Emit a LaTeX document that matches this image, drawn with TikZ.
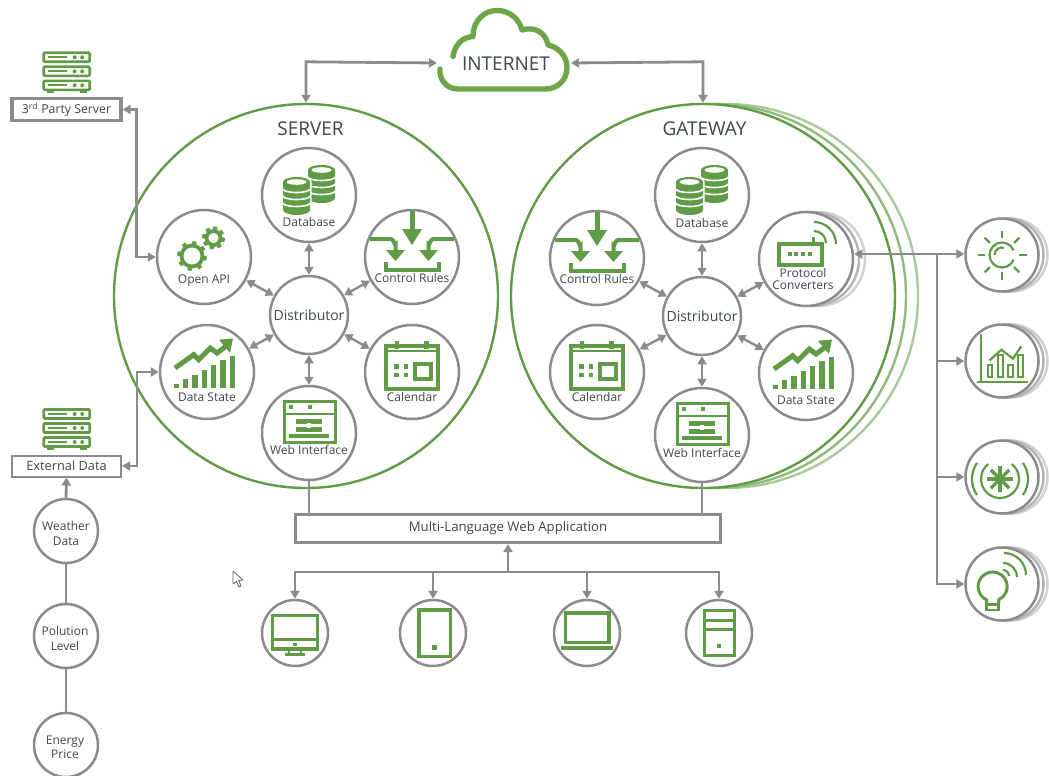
\documentclass[tikz,border=0pt]{standalone}
\usepackage{fontspec}
\setmainfont{Open Sans}
\usetikzlibrary{arrows.meta,calc}
\definecolor{gr}{HTML}{609B45}
\definecolor{grc}{HTML}{6EA548}
\definecolor{grl}{HTML}{8FBA7C}
\definecolor{grm}{HTML}{A9CB9B}
\definecolor{cg}{HTML}{8B8B8D}
\definecolor{sh1}{HTML}{B5B5B7}
\definecolor{sh2}{HTML}{D2D2D4}
\definecolor{tx}{HTML}{3F4650}
\tikzset{
 x=1pt,y=-1pt,
 unitc/.style={circle,draw=cg,line width=2.5pt,fill=white,inner sep=0pt,minimum size=94pt},
 smallc/.style={circle,draw=cg,line width=2.5pt,fill=white,inner sep=0pt,minimum size=66pt},
 rightc/.style={circle,draw=cg,line width=2.5pt,fill=white,inner sep=0pt,minimum size=73pt},
 distc/.style={circle,draw=cg,line width=2.5pt,fill=white,inner sep=0pt,minimum size=78pt,text=tx,font=\fontsize{14}{15}\selectfont},
 lbl/.style={inner sep=0pt,text=tx,align=center,font=\fontsize{12}{13}\selectfont},
 ttl/.style={inner sep=0pt,text=tx,font=\fontsize{19}{21}\selectfont},
 conn/.style={draw=cg,line width=2.8pt,arrows={-},>={Triangle[length=8pt,width=9pt]}},
 ic/.style={draw=gr,line width=3.2pt,line cap=butt},
 icthin/.style={draw=gr,line width=2.2pt},
 icf/.style={fill=gr,draw=none},
 pics/dbone/.style={code={
   \path[fill=white,draw=white,line width=3pt] (-13.5,-14) arc[start angle=180,end angle=360,x radius=13.5,y radius=5]
      -- (13.5,14) arc[start angle=0,end angle=180,x radius=13.5,y radius=5] -- cycle;
   \path[icf] (-13.5,-14) arc[start angle=180,end angle=360,x radius=13.5,y radius=5]
      -- (13.5,14) arc[start angle=0,end angle=180,x radius=13.5,y radius=5] -- cycle;
   \path[fill=white] (0,-14) ellipse[x radius=10,y radius=2.8];
   \foreach \lv in {-7,0,7}{\draw[white,line width=1.6pt] (-13.5,\lv) arc[start angle=180,end angle=0,x radius=13.5,y radius=3.5];}
 }},
 pics/dbicon/.style={code={
   \pic at (12.5,-11) {dbone};
   \pic at (-12.5,1) {dbone};
 }},
 pics/gear/.style={code={
   \draw[gr,line width=3.8pt] (0,0) circle[radius=#1];
   \foreach \a in {0,45,...,315}{\draw[gr,line width=4.2pt] (\a+10:#1) -- (\a+10:#1+4.4);}
 }},
 pics/gearicon/.style={code={
   \pic at (-12,-1) {gear=10.5};
   \pic at (9.5,-19) {gear=7};
 }},
 pics/ctrlicon/.style={code={
   \draw[ic,line width=5pt] (0,-46) -- (0,-24);
   \path[icf] (-10,-28) -- (10,-28) -- (0,-12) -- cycle;
   \draw[ic,line width=4pt] (-42,-18) -- (-21,-18) to[out=0,in=-90] (-16.5,-12) -- (-16.5,-3);
   \path[icf] (-26,-7) -- (-7,-7) -- (-16.5,4) -- cycle;
   \draw[ic,line width=4pt] (42,-18) -- (21,-18) to[out=180,in=-90] (16.5,-12) -- (16.5,-3);
   \path[icf] (26,-7) -- (7,-7) -- (16.5,4) -- cycle;
   \draw[ic,line width=3.4pt] (-26,4.5) -- (-26,13) -- (27,13) -- (27,4.5);
 }},
 pics/stateicon/.style={code={
   \foreach \xx/\tt in {-30.7/11.7,-21.3/7,-12/2.7,-2.7/-2.3,6.7/-6.7,16/-11.7,25.3/-16.3}{
     \path[icf] (\xx-2.6,16) rectangle (\xx+2.6,\tt);}
   \draw[ic,line width=5pt] (-32,-4) -- (-13.3,-17.3) -- (-8.3,-12.3) -- (3.3,-24) -- (10,-19) -- (22,-28);
   \path[icf] (12,-32.3) -- (26,-33.5) -- (23,-19) -- cycle;
 }},
 pics/calicon/.style={code={
   \draw[ic,line width=3.8pt] (-26,-26) rectangle (26,17);
   \draw[ic,line width=2.4pt] (-26,-21) -- (26,-21);
   \draw[ic,line width=4.4pt] (-15,-31) -- (-15,-23);
   \draw[ic,line width=4.4pt] (14.5,-31) -- (14.5,-23);
   \foreach \xx/\yy in {-15.7/-5.7,-6.3/-5.7,-15.7/2.7,-6.3/2.7}{\path[icf] (\xx-2.2,\yy-2.2) rectangle (\xx+2.2,\yy+2.2);}
   \draw[ic,line width=4.6pt] (3,-8) rectangle (19,7);
 }},
 pics/webicon/.style={code={
   \draw[ic,line width=3pt] (-25,-32) rectangle (26,9);
   \draw[ic,line width=2.8pt] (-25,-19) -- (26,-19);
   \path[icf] (-20,-28) rectangle (-16,-24);
   \path[icf] (-1,-28) rectangle (3,-24);
   \path[icf] (-13,-14) rectangle (13,-9);
   \path[icf] (-13,-6.5) rectangle (13,-1.5);
   \path[fill=white] (-2,-10) rectangle (2,-5);
   \path[icf] (-20,0.5) rectangle (20,4.5);
 }},
 pics/routericon/.style={code={
   \draw[ic,line width=3.2pt] (-27,-15) rectangle (16,6);
   \foreach \xx in {-16,-10,-3,4}{\path[icf] (\xx-1.7,-6.7) rectangle (\xx+1.7,-3.3);}
   \draw[ic,line width=3.4pt] (7.5,-22) -- (7.5,-15);
   \draw[icthin] (8,-28) arc[start angle=-90,end angle=0,radius=12];
   \draw[icthin] (8,-37) arc[start angle=-90,end angle=0,radius=22];
 }},
 pics/rackicon/.style={code={
   \foreach \rw in {-14,0,14}{
     \draw[ic,line width=2.6pt,rounded corners=1pt] (-23,\rw-4.5) rectangle (23,\rw+4.5);
     \draw[gr,line width=1.8pt] (-19,\rw) -- (0,\rw);
     \path[icf] (8,\rw) circle[radius=2];
     \path[icf] (15.5,\rw) circle[radius=2];
   }
   \foreach \xx in {-16.5,16.5}{
     \foreach \rw in {-9.5,4.5}{\draw[gr,line width=2.4pt] (\xx,\rw) -- (\xx,\rw+1.5);}
     \draw[gr,line width=2.4pt] (\xx,18.5) -- (\xx,21);
   }
   \draw[gr,line width=2.4pt] (-20,20.5) -- (-13,20.5);
   \draw[gr,line width=2.4pt] (13,20.5) -- (20,20.5);
 }},
 pics/sunicon/.style={code={
   \foreach \a in {0,45,...,315}{\draw[icthin] (\a:17) -- (\a:24.5);}
   \draw[icthin] (22:12.5) arc[start angle=22,end angle=338,radius=12.5];
   \draw[icthin] (180:7.5) arc[start angle=180,end angle=285,radius=7.5];
 }},
 pics/charticon/.style={code={
   \draw[icthin] (-20.7,-27.3) -- (-20.7,20.7);
   \draw[icthin] (-25,20.7) -- (26,20.7);
   \draw[icthin] (-14,4.3) rectangle (-9.7,16);
   \draw[icthin] (-4,-5.7) rectangle (1,16);
   \draw[icthin] (6,4.3) rectangle (11,16);
   \draw[icthin] (16,-5.7) rectangle (21,16);
   \draw[icthin] (-12.3,-0.7) -- (-0.7,-11.3) -- (11,-2.3) -- (19.3,-14.7);
 }},
 pics/sparkicon/.style={code={
   \foreach \a in {0,45,...,135}{\draw[gr,line width=3.2pt] (-2,2)++(\a:13) -- ++(\a+180:26);}
   \draw[icthin] (-2,2)++(-52:19) arc[start angle=-52,end angle=232,radius=19];
   \draw[icthin] (-2,2)++(-35:28) arc[start angle=-35,end angle=35,radius=28];
   \draw[icthin] (-2,2)++(145:28) arc[start angle=145,end angle=215,radius=28];
 }},
 pics/bulbicon/.style={code={
   \draw[ic,line width=3pt] (-15.5,20) -- (-15.5,15.7) arc[start angle=115,end angle=425,radius=14.5] -- (-3.3,20);
   \draw[ic,line width=2.6pt] (-15.5,20.5) -- (-3.5,20.5) -- (-3.5,26) -- (-15.5,26) -- cycle;
   \draw[icthin] (1,-14) arc[start angle=-90,end angle=0,radius=6];
   \draw[icthin] (1,-21) arc[start angle=-90,end angle=0,radius=14];
   \draw[icthin] (2,-31) arc[start angle=-90,end angle=0,radius=22];
 }},
 pics/monicon/.style={code={
   \draw[ic] (-22.7,-17.3) rectangle (22.3,16);
   \draw[ic] (-22.7,6.7) -- (22.3,6.7);
   \path[icf] (-2,9.5) rectangle (2,12.5);
   \draw[ic,line width=2.4pt] (-6,16) -- (-6,21.5);
   \draw[ic,line width=2.4pt] (6,16) -- (6,21.5);
   \draw[ic] (-10,21.7) -- (10,21.7);
 }},
 pics/tabicon/.style={code={
   \draw[ic,line width=3.6pt] (-14.3,-23.3) rectangle (17.3,23.3);
   \path[icf] (-1.5,12) rectangle (3.5,17);
 }},
 pics/lapicon/.style={code={
   \draw[ic,line width=3.6pt] (-21.7,-20) rectangle (21.7,9.3);
   \draw[ic,line width=3.6pt] (-25.7,15) -- (25.7,15);
 }},
 pics/towericon/.style={code={
   \draw[ic] (-14.3,-22.7) rectangle (15.7,22.7);
   \draw[ic] (-14.3,-12.7) -- (15.7,-12.7);
   \draw[ic] (-14.3,-3.3) -- (15.7,-3.3);
   \path[icf] (-2,10.7) rectangle (2,14.7);
 }},
}
% name, x, y, icon, label, label dy
\newcommand{\unitnode}[6]{%
  \node[unitc] (#1) at (#2,#3) {};
  \pic at (#1.center) {#4};
  \node[lbl] (#1-l) at ($(#1.center)+(0,#6)$) {#5};
}
\begin{document}
\begin{tikzpicture}
\useasboundingbox (0,0) rectangle (1049,776);
\path[fill=white] (0,0) rectangle (1049,776);

% big circles
\node[circle,draw=grm,line width=2.4pt,fill=white,minimum size=384pt,inner sep=0pt] (gw3) at (726,296) {};
\node[circle,draw=grl,line width=2.4pt,fill=white,minimum size=384pt,inner sep=0pt] (gw2) at (714,296) {};
\node[circle,draw=gr,line width=2.4pt,fill=white,minimum size=384pt,inner sep=0pt] (gw) at (703,296) {};
\node[circle,draw=gr,line width=2.4pt,fill=white,minimum size=384pt,inner sep=0pt] (srv) at (306,296) {};

\node[ttl] (srvt) at (310.5,128.5) {SERVER};
\node[ttl] (gwt) at (704.5,128.5) {GATEWAY};

% cloud
\draw[grc,line width=5.4pt,line cap=round,line join=round] (453,56.5)
  .. controls (455,44) and (463,37) .. (473,36.5)
  .. controls (473,20) and (485,10) .. (498,10.5)
  .. controls (510,11) and (519,19) .. (522,30)
  .. controls (535,26) and (546,33) .. (548,45)
  .. controls (558,47) and (567,56) .. (567,67)
  .. controls (567,80) and (558,89) .. (545,89)
  -- (458,89)
  .. controls (447,89) and (439,80) .. (440,69);
\node[inner sep=0pt,text=tx,font=\fontsize{19}{21}\selectfont] (inet) at (506,64) {INTERNET};
\coordinate (cloudl) at (437,63);
\coordinate (cloudr) at (571,63);

% server units
\unitnode{sdb}{309}{195}{dbicon}{Database}{27}
\unitnode{sapi}{204}{257}{gearicon}{Open API}{24}
\unitnode{sctl}{412}{257}{ctrlicon}{Control Rules}{21}
\unitnode{sst}{207}{372}{stateicon}{Data State}{25}
\unitnode{scal}{412}{372}{calicon}{Calendar}{25}
\unitnode{sweb}{309}{433}{webicon}{Web Interface}{17}
\node[distc] (sd) at (309,315) {Distributor};

% gateway units
\unitnode{gdb}{702}{195}{dbicon}{Database}{28}
\unitnode{gctl}{597}{258}{ctrlicon}{Control Rules}{21}
\unitnode{gcal}{597}{372}{calicon}{Calendar}{25}
\unitnode{gst}{806}{373}{stateicon}{Data State}{27}
\unitnode{gweb}{702}{435}{webicon}{Web Interface}{18}
\node[unitc,draw=sh2] (pc3) at (818,259) {};
\node[unitc,draw=sh1] (pc2) at (812,259) {};
\node[unitc] (pc) at (806,259) {};
\pic at (pc.center) {routericon};
\node[lbl,font=\fontsize{12}{11.5}\selectfont] (pc-l) at ($(pc.center)+(-3,20)$) {Protocol\\Converters};
\node[distc] (gd) at (702,316) {Distributor};

% left
\pic at (66.7,71.3) {rackicon};
\node[draw=cg,line width=3.4pt,fill=white,inner sep=0pt,minimum width=109pt,minimum height=22pt,text=tx,font=\fontsize{12.3}{13}\selectfont] (third) at (66.5,109.5) {\raisebox{-1.5pt}{3\textsuperscript{rd} Party Server}};
\pic at (66.7,428) {rackicon};
\node[draw=cg,line width=2pt,fill=white,inner sep=0pt,minimum width=109pt,minimum height=21pt,text=tx,font=\fontsize{12.8}{13}\selectfont] (ext) at (66.5,466) {External Data};
\node[smallc,minimum size=64pt] (wea) at (66,531) {};
\node[lbl,font=\fontsize{12}{15}\selectfont] (wea-l) at (66,533) {Weather\\Data};
\node[smallc,minimum size=64pt] (pol) at (66,636) {};
\node[lbl,font=\fontsize{12}{15}\selectfont] (pol-l) at (65,638) {Polution\\Level};
\node[smallc,minimum size=64pt] (ene) at (66,745) {};
\node[lbl,font=\fontsize{12}{14}\selectfont] (ene-l) at (65,747) {Energy\\Price};

% web application
\node[draw=cg,line width=3.4pt,fill=white,inner sep=0pt,minimum width=425pt,minimum height=28pt,text=tx,font=\fontsize{13.2}{14}\selectfont] (app) at (508,528.5) {\raisebox{-1.8pt}{Multi-Language Web Application}};

% devices
\node[smallc] (d1) at (295,633) {}; \pic at (d1.center) {monicon};
\node[smallc] (d2) at (433,633) {}; \pic at (d2.center) {tabicon};
\node[smallc] (d3) at (587,633) {}; \pic at (d3.center) {lapicon};
\node[smallc] (d4) at (719,633) {}; \pic at (d4.center) {towericon};

% right devices
\foreach \nm/\yy/\icn in {r1/255/sunicon,r2/361/charticon,r3/477/sparkicon,r4/584/bulbicon}{
  \node[rightc,draw=sh2] (\nm c) at (1011,\yy) {};
  \node[rightc,draw=sh1] (\nm b) at (1007,\yy) {};
  \node[rightc] (\nm) at (1002,\yy) {};
  \pic at (\nm.center) {\icn};
}

% connectors
\draw[conn,<->] (srv.north) -- ++(0,-41) -- (cloudl);
\draw[conn,<->] (gw.north) -- ++(0,-41) -- (cloudr);
\draw[conn,<->] (third.east) -- ++(14,0) |- (sapi.west);
\draw[conn,<->] (ext.east) -- ++(15,0) |- (sst.west);
\draw[conn,->] (wea.north) -- (ext.south);
\draw[conn] (wea.south) -- (pol.north);
\draw[conn] (pol.south) -- (ene.north);
\foreach \a in {sdb,sapi,sctl,sst,scal,sweb}{\draw[conn,<->,line width=2.4pt] (sd) -- (\a);}
\foreach \a in {gdb,gctl,gcal,gst,gweb,pc}{\draw[conn,<->,line width=2.4pt] (gd) -- (\a);}
\draw[conn] (sweb.south) -- (sweb.south |- app.north);
\draw[conn] (gweb.south) -- (gweb.south |- app.north);
\coordinate (bus) at (508,572);
\draw[conn,->] (bus) -- (app.south -| bus);
\draw[conn,->] (bus) -| (d1.north);
\draw[conn,->] (bus) -| (d2.north);
\draw[conn,->] (bus) -| (d3.north);
\draw[conn,->] (bus) -| (d4.north);
\coordinate (rbus) at (937,254);
\draw[conn,<->] (pc.east |- rbus) -- (r1.west |- rbus);
\draw[conn,->] (rbus) |- (r2.west);
\draw[conn,->] (rbus) |- (r3.west);
\draw[conn,->] (rbus) |- (r4.west);

% pointer
\draw[cg!70!black,line width=.8pt,fill=white,line join=round] (233,571) -- (233,584) -- (236.5,581.5) -- (239,587) -- (241,586) -- (238.8,580.5) -- (243,580) -- cycle;
\end{tikzpicture}
\end{document}
